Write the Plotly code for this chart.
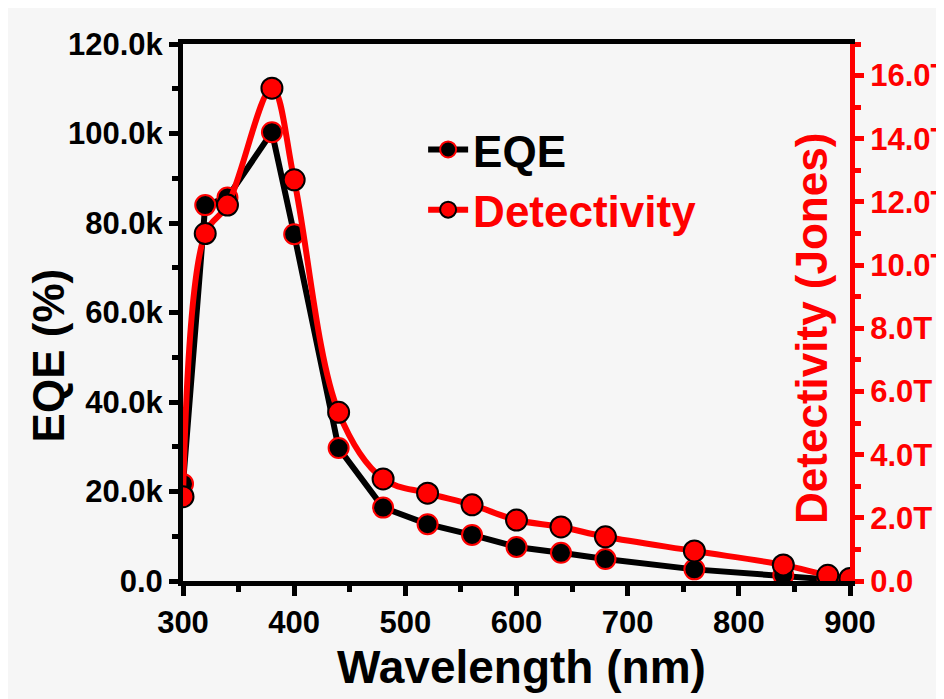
import plotly.graph_objects as go

# ---- data ----
wavelength = [300, 320, 340, 380, 400, 440, 480, 520, 560, 600, 640, 680, 760, 840, 880, 900]
eqe = [21.7e3, 84.0e3, 85.7e3, 100.3e3, 77.5e3, 29.7e3, 16.4e3, 12.7e3, 10.3e3,
       7.6e3, 6.3e3, 4.9e3, 2.6e3, 1.3e3, 0.4e3, 0.0]
detectivity = [2.67e12, 11.0e12, 11.9e12, 15.6e12, 12.7e12, 5.34e12, 3.23e12, 2.78e12,
               2.41e12, 1.93e12, 1.71e12, 1.40e12, 0.95e12, 0.51e12, 0.18e12, 0.08e12]

x_ticks = [300, 400, 500, 600, 700, 800, 900]
eqe_tickvals = [0, 20e3, 40e3, 60e3, 80e3, 100e3, 120e3]
eqe_ticktext = ["0.0", "20.0k", "40.0k", "60.0k", "80.0k", "100.0k", "120.0k"]
det_tickvals = [0, 2e12, 4e12, 6e12, 8e12, 10e12, 12e12, 14e12, 16e12]
det_ticktext = ["0.0", "2.0T", "4.0T", "6.0T", "8.0T", "10.0T", "12.0T", "14.0T", "16.0T"]

RED = "#ff0000"
BLACK = "#000000"
FONT = "Arial, Liberation Sans, sans-serif"
BG = "#f6f6f6"
TICK = 31

fig = go.Figure()
fig.add_trace(go.Scatter(
    x=wavelength, y=eqe, name="EQE", mode="lines+markers",
    line=dict(color=BLACK, width=6),
    marker=dict(size=20, color=BLACK, line=dict(color=RED, width=2)),
    yaxis="y",
))
fig.add_trace(go.Scatter(
    x=wavelength, y=detectivity,
    name="<span style='color:#ff0000'>Detectivity</span>", mode="lines+markers",
    line=dict(color=RED, width=6, shape="spline", smoothing=1.0),
    marker=dict(size=21, color=RED, line=dict(color=BLACK, width=2)),
    yaxis="y2",
))

fig.update_layout(
    width=944, height=699,
    margin=dict(l=175, r=102, t=36, b=126, autoexpand=False),
    paper_bgcolor=BG, plot_bgcolor=BG,
    font=dict(family=FONT, color=BLACK, size=TICK, weight="bold"),
    showlegend=True,
    legend=dict(
        x=0.36, y=0.869, xanchor="left", yanchor="top",
        bgcolor="rgba(0,0,0,0)",
        font=dict(family=FONT, size=44, color=BLACK, weight="bold"),
        itemwidth=40, tracegroupgap=0,
    ),
    xaxis=dict(
        range=[300, 900], tickvals=x_ticks, automargin=False,
        showline=True, linecolor=BLACK, linewidth=5, mirror=True,
        ticks="outside", ticklen=10, tickwidth=5, tickcolor=BLACK,
        minor=dict(dtick=50, tick0=0, ticks="outside", ticklen=6, tickwidth=5, tickcolor=BLACK),
        showgrid=False, zeroline=False,
        tickfont=dict(size=TICK, color=BLACK, family=FONT, weight="bold"),
    ),
    yaxis=dict(
        range=[0, 120e3], tickmode="array", tickvals=eqe_tickvals, ticktext=eqe_ticktext,
        automargin=False,
        showline=True, linecolor=BLACK, linewidth=5,
        ticks="outside", ticklen=9, tickwidth=5, tickcolor=BLACK,
        minor=dict(dtick=10e3, tick0=0, ticks="outside", ticklen=6, tickwidth=5, tickcolor=BLACK),
        showgrid=False, zeroline=False,
        tickfont=dict(size=TICK, color=BLACK, family=FONT, weight="bold"),
    ),
    yaxis2=dict(
        range=[0, 17e12], overlaying="y", side="right", anchor="x", automargin=False,
        tickmode="array", tickvals=det_tickvals, ticktext=det_ticktext,
        showline=True, linecolor=RED, linewidth=5,
        ticks="outside", ticklen=9, tickwidth=5, tickcolor=RED,
        minor=dict(dtick=1e12, tick0=0, ticks="outside", ticklen=6, tickwidth=5, tickcolor=RED),
        showgrid=False, zeroline=False,
        tickfont=dict(size=TICK, color=RED, family=FONT, weight="bold"),
    ),
    annotations=[
        dict(text="Wavelength (nm)", xref="paper", yref="paper", x=0.508, y=-0.16,
             xanchor="center", yanchor="middle", showarrow=False,
             font=dict(size=46, color=BLACK, family=FONT, weight="bold")),
        dict(text="EQE (%)", xref="paper", yref="paper", x=-0.201, y=0.42,
             xanchor="center", yanchor="middle", textangle=-90, showarrow=False,
             font=dict(size=44, color=BLACK, family=FONT, weight="bold")),
        dict(text="Detectivity (Jones)", xref="paper", yref="paper", x=0.942, y=0.47,
             xanchor="center", yanchor="middle", textangle=-90, showarrow=False,
             font=dict(size=44, color=RED, family=FONT, weight="bold")),
    ],
)

fig.write_html("out.html")
